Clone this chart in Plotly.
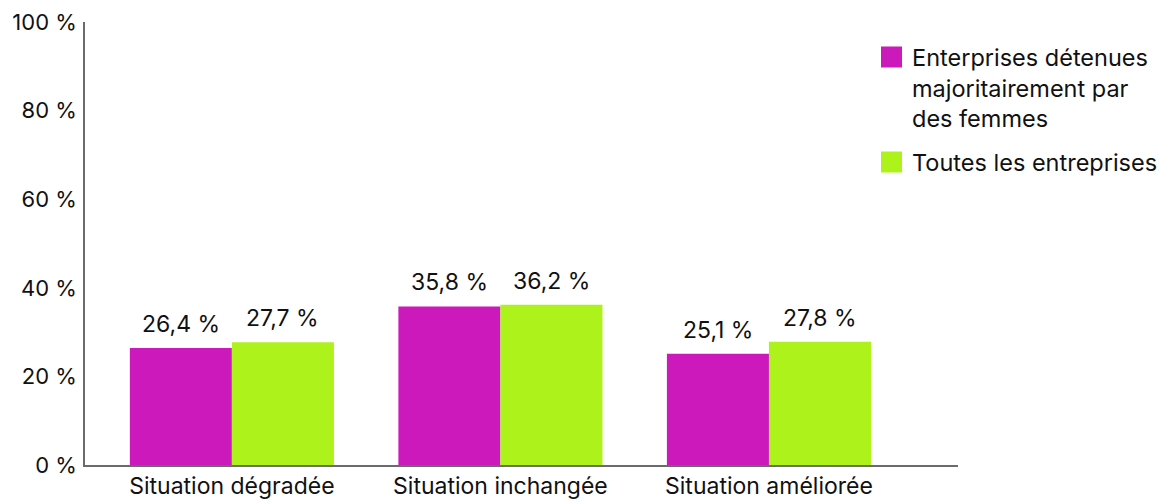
import plotly.graph_objects as go

categories = ["Situation dégradée", "Situation inchangée", "Situation améliorée"]
women_owned = [26.4, 35.8, 25.1]
all_firms = [27.7, 36.2, 27.8]
series_names = ["Enterprises détenues<br>majoritairement par<br>des femmes", "Toutes les entreprises"]
y_ticks = [0, 20, 40, 60, 80, 100]
y_tick_labels = ["0 %", "20 %", "40 %", "60 %", "80 %", "100 %"]

MAGENTA = "#CB19BB"
GREEN = "#ADF21A"
FONT = "Inter"

def fr(v):
    return f"{v:.1f}".replace(".", ",") + " %"

fig = go.Figure()
fig.add_trace(go.Bar(x=categories, y=women_owned, marker=dict(color=MAGENTA, line_width=0),
                     name=series_names[0], showlegend=False))
fig.add_trace(go.Bar(x=categories, y=all_firms, marker=dict(color=GREEN, line_width=0),
                     name=series_names[1], showlegend=False))

# value labels above each bar
half = 0.19
for i, (a, b) in enumerate(zip(women_owned, all_firms)):
    for dx, v in ((-half, a), (half, b)):
        fig.add_annotation(x=i + dx, y=v, text=fr(v), showarrow=False, yanchor="bottom",
                           yshift=8, font=dict(family=FONT, size=23, color="#111"))

# legend drawn at the right of the plot
legend_items = [(MAGENTA, series_names[0], 57), (GREEN, series_names[1], 162)]
for color, label, yc in legend_items:
    fig.add_shape(type="rect", xref="paper", yref="paper",
                  x0=(881 - 85) / 873, x1=(902 - 85) / 873,
                  y0=(465 - (yc + 10.5)) / 443, y1=(465 - (yc - 10.5)) / 443,
                  fillcolor=color, line_width=0)
    fig.add_annotation(xref="paper", yref="paper", x=(910 - 85) / 873,
                       y=(465 - (yc - 16)) / 443, xanchor="left", yanchor="top",
                       align="left", text=label, showarrow=False,
                       font=dict(family=FONT, size=23.5, color="#111"))

fig.update_layout(
    width=1163, height=501,
    margin=dict(l=85, r=205, t=22, b=36, autoexpand=False),
    paper_bgcolor="white", plot_bgcolor="white",
    barmode="group", bargap=0.24, bargroupgap=0,
    font=dict(family=FONT, size=22, color="#111"),
    xaxis=dict(type="category", range=[-0.547, 2.704], showline=True, linecolor="#6b6b6b",
               linewidth=1.5, ticks="", showgrid=False, zeroline=False,
               tickfont=dict(size=23), ticklabelstandoff=0),
    yaxis=dict(range=[0, 100], tickvals=y_ticks, ticktext=y_tick_labels, showline=True,
               linecolor="#6b6b6b", linewidth=1.5, ticks="", showgrid=False, zeroline=False,
               tickfont=dict(size=22), ticklabelstandoff=2),
)

fig.write_html("out.html")
